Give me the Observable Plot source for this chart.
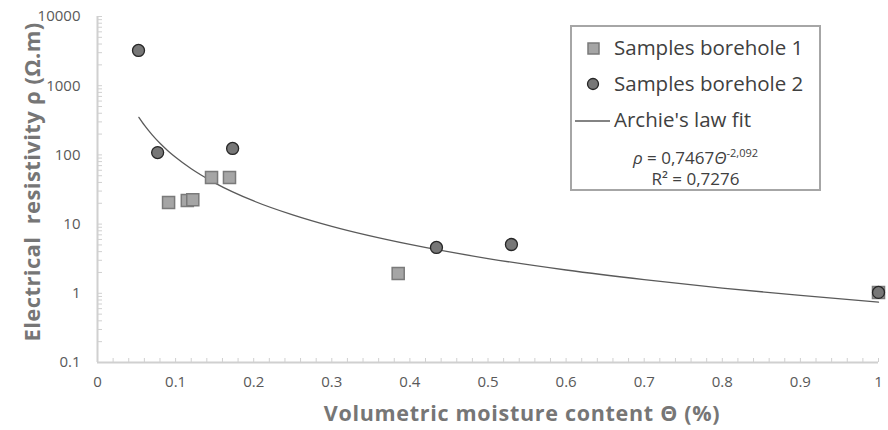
<!DOCTYPE html>
<html><head><meta charset="utf-8">
<script src="https://cdn.jsdelivr.net/npm/d3@7"></script>
<script src="https://cdn.jsdelivr.net/npm/@observablehq/plot@0.6"></script>
<style>
body{margin:0;background:#fff;}
#wrap{position:relative;width:888px;height:430px;font-family:"Open Sans",sans-serif;}
#ytitle{position:absolute;left:31px;top:182px;transform:translate(-50%,-50%) rotate(-90deg);white-space:pre;font-weight:bold;font-size:22px;letter-spacing:0.4px;color:#767676;}
#xtitle{position:absolute;left:522px;top:412px;transform:translate(-50%,-50%);white-space:pre;font-weight:bold;font-size:21.5px;letter-spacing:0.7px;color:#767676;}
#legend{position:absolute;left:570px;top:25px;width:247px;height:162px;border:2px solid #a6a6a6;background:#fff;color:#404040;}
.row{position:absolute;left:0;font-size:20.5px;line-height:22px;white-space:nowrap;}
.eq{position:absolute;width:100%;text-align:center;font-size:17px;color:#404040;white-space:nowrap;}
</style></head>
<body><div id="wrap"></div>
<script>
// Data
const b1Theta = [0.091, 0.115, 0.122, 0.146, 0.169, 0.385, 1.0];
const b1Rho   = [20.5, 21.9, 22.5, 47, 47, 1.93, 1.03];
const b2Theta = [0.0525, 0.077, 0.173, 0.434, 0.530, 1.0];
const b2Rho   = [3230, 108, 124, 4.6, 5.07, 1.03];
// Archie's law fit curve (points along the plotted curve)
const fitTheta = [0.053, 0.06, 0.07, 0.08, 0.09, 0.1, 0.12, 0.15, 0.2, 0.25, 0.3, 0.4, 0.5, 0.6, 0.7, 0.8, 0.9, 1.0];
const fitRho   = [348.3, 268.7, 194.7, 147.2, 115.1, 92.3, 63.0, 39.5, 21.6, 13.6, 9.27, 5.08, 3.18, 2.17, 1.575, 1.191, 0.931, 0.7467];
const xTickVals = [0, 0.1, 0.2, 0.3, 0.4, 0.5, 0.6, 0.7, 0.8, 0.9, 1];
const xTickLabels = ["0", "0.1", "0.2", "0.3", "0.4", "0.5", "0.6", "0.7", "0.8", "0.9", "1"];
const yTickVals = [0.1, 1, 10, 100, 1000, 10000];
const yTickLabels = ["0.1", "1", "10", "100", "1000", "10000"];
const xMinor = d3.range(0, 51).map(i => i / 50);
const yMinor = [].concat(...[0.1, 1, 10, 100, 1000].map(d => [1,2,3,4,5,6,7,8,9].map(k => +(k * d).toPrecision(3)))).concat([10000]);
const xTitle = "Volumetric moisture content \u0398 (%)";
const yTitle = "Electrical  resistivity \u03c1 (\u03a9.m)";
const legendLabels = ["Samples borehole 1", "Samples borehole 2", "Archie's law fit"];

const b1 = b1Theta.map((t, i) => ({t, r: b1Rho[i]}));
const b2 = b2Theta.map((t, i) => ({t, r: b2Rho[i]}));
const fit = fitTheta.map((t, i) => ({t, r: fitRho[i]}));
const yLab = yTickVals.map((v, i) => ({v, s: yTickLabels[i]}));

const axisColor = "#d0d0d0";
const chart = Plot.plot({
  width: 888, height: 430,
  marginLeft: 97, marginRight: 10, marginTop: 16, marginBottom: 68,
  style: {fontFamily: "Open Sans, sans-serif", fontSize: "15px", color: "#595959", background: "transparent"},
  x: {domain: [0, 1], axis: null},
  y: {type: "log", domain: [0.1, 10000], axis: null},
  marks: [
    Plot.axisX(xMinor, {tickSize: -4, stroke: axisColor, tickFormat: () => "", label: null}),
    Plot.axisY(yMinor, {tickSize: -5, stroke: axisColor, tickFormat: () => "", label: null}),
    Plot.axisX(xTickVals, {tickSize: 0, tickPadding: 14, tickFormat: d => xTickLabels[xTickVals.indexOf(d)], fill: "#595959", label: null}),
    Plot.text(yLab, {x: 0, y: "v", text: "s", textAnchor: "end", dx: -17, fill: "#595959", fontSize: 15}),
    Plot.ruleX([0], {stroke: axisColor, strokeWidth: 2}),
    Plot.ruleY([0.1], {stroke: axisColor, strokeWidth: 2}),
    Plot.line(fit, {x: "t", y: "r", curve: "monotone-x", stroke: "#5a5a5a", strokeWidth: 1.3}),
    Plot.dot(b1, {x: "t", y: "r", symbol: "square", r: 6.8, fill: "#a5a5a5", stroke: "#7a7a7a", strokeWidth: 1.5}),
    Plot.dot(b2, {x: "t", y: "r", symbol: "circle", r: 6, fill: "#777777", stroke: "#262626", strokeWidth: 1.3})
  ]
});
const wrap = document.getElementById("wrap");
wrap.appendChild(chart);
wrap.insertAdjacentHTML("beforeend", `
<div id="ytitle">${yTitle}</div>
<div id="xtitle">${xTitle}</div>
<div id="legend">
  <svg width="247" height="162" style="position:absolute;left:0;top:0">
    <rect x="16" y="16" width="11" height="11" fill="#a5a5a5" stroke="#7a7a7a" stroke-width="1.5"/>
    <circle cx="21" cy="57" r="5.5" fill="#777777" stroke="#262626" stroke-width="1.3"/>
    <line x1="3" y1="94" x2="38" y2="94" stroke="#5a5a5a" stroke-width="1.3"/>
  </svg>
  <div class="row" style="left:42px;top:9px">${legendLabels[0]}</div>
  <div class="row" style="left:42px;top:45px">${legendLabels[1]}</div>
  <div class="row" style="left:42px;top:81px">${legendLabels[2]}</div>
  <div class="eq" style="top:118px"><i>\u03c1</i> = 0,7467<i>\u0398</i><sup style="font-size:11px">-2,092</sup></div>
  <div class="eq" style="top:140px">R\u00b2 = 0,7276</div>
</div>`);
</script>
</body></html>
